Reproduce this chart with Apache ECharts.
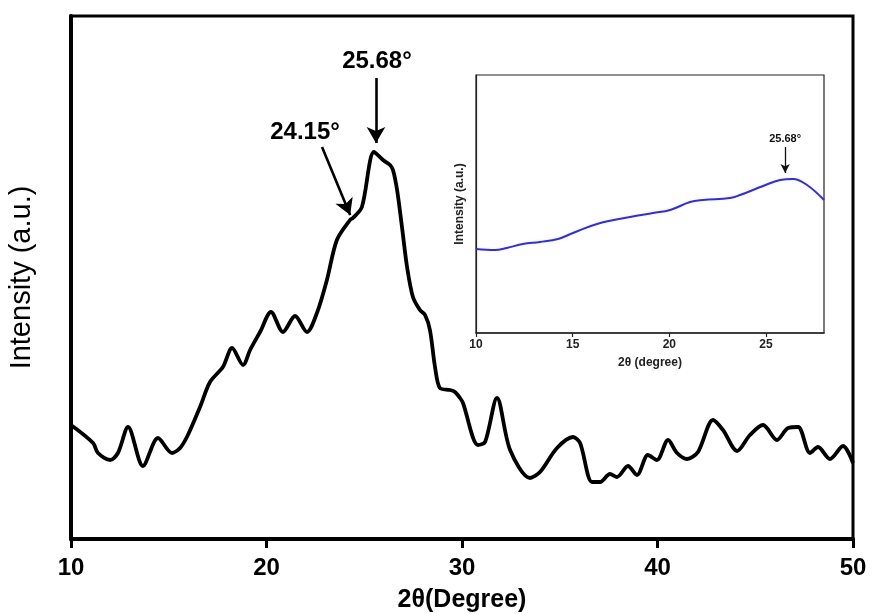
<!DOCTYPE html>
<html>
<head>
<meta charset="utf-8">
<script src="https://cdn.jsdelivr.net/npm/echarts@6/dist/echarts.min.js"></script>
<style>html,body{margin:0;padding:0;background:#fff}#c{width:876px;height:614px}</style>
</head>
<body>
<div id="c"></div>
<script>
// Main XRD pattern (2θ in degrees, intensity in arbitrary units)
const mainX = [10.0, 11.13, 11.38, 12.0, 12.4, 12.92, 13.68, 14.45, 15.17, 15.58, 15.98, 16.6, 17.11, 17.77, 18.24, 18.8, 19.16, 19.67, 20.23, 20.84, 21.46, 22.07, 22.58, 23.09, 23.6, 24.27, 24.42, 24.88, 25.5, 25.96, 26.32, 26.47, 26.68, 26.93, 27.19, 27.49, 27.85, 28.11, 28.36, 28.62, 28.87, 29.39, 29.64, 29.9, 30.05, 30.82, 31.18, 31.79, 32.46, 33.48, 33.99, 34.86, 35.68, 36.04, 36.65, 37.06, 37.57, 37.93, 38.49, 38.95, 39.51, 39.97, 40.54, 41.0, 41.51, 42.07, 42.84, 43.35, 44.07, 44.73, 45.4, 46.11, 46.68, 47.19, 47.8, 48.21, 48.82, 49.49, 50.0];
const mainY = [114, 96, 86, 79, 86, 112, 73, 101, 86, 91, 104, 132, 157, 172, 191, 174, 189, 207, 227, 207, 223, 207, 226, 259, 299, 319, 321, 332, 387, 379, 374, 369, 349, 312, 272, 242, 229, 224, 209, 172, 151, 149, 147, 141, 136, 94, 97, 141, 89, 61, 67, 91, 102, 96, 57, 57, 65, 62, 73, 64, 84, 79, 99, 86, 80, 87, 119, 109, 88, 104, 114, 99, 111, 112, 86, 92, 80, 93, 76];
const mainTicks = [10, 20, 30, 40, 50];

// Inset pattern
const insetX = [10.0, 10.98, 11.59, 12.43, 13.31, 14.24, 15.02, 16.26, 17.97, 19.16, 20.04, 21.07, 21.74, 23.14, 23.66, 24.85, 25.73, 26.4, 27.12, 28.0];
const insetY = [84, 83, 85, 89, 91, 94, 100, 109, 116, 120, 123, 131, 133, 135, 138, 147, 153, 154, 148, 133];
const insetTicks = [10, 15, 20, 25];

// Annotations
const peakMain = {label: '25.68°', text: [25.65, 478], from: [25.6, 461], to: [25.6, 396]};
const shoulderMain = {label: '24.15°', text: [21.97, 407], from: [22.84, 392], to: [24.28, 324]};
const peakInset = {label: '25.68°', text: [25.99, 194], from: [25.99, 186], to: [25.99, 160]};

const FONT = 'Liberation Sans, Arial, sans-serif';
const zip = (a, b) => a.map((v, i) => [v, b[i]]);

const chart = echarts.init(document.getElementById('c'));
chart.setOption({
  animation: false,
  backgroundColor: '#fff',
  grid: [
    {left: 71, right: 23, top: 16, bottom: 75, outerBoundsMode: 'none', containLabel: false, show: true, borderColor: '#000', borderWidth: 3, backgroundColor: 'transparent'},
    {left: 476, right: 52, top: 75, bottom: 281, outerBoundsMode: 'none', containLabel: false, show: true, borderColor: '#222', borderWidth: 1.2, backgroundColor: '#fff', z: 5}
  ],
  xAxis: [
    {
      type: 'value', gridIndex: 0, min: 10, max: 50, interval: 10,
      name: '2θ(Degree)', nameLocation: 'middle', nameGap: 49,
      nameTextStyle: {fontFamily: FONT, fontWeight: 'bold', fontSize: 25, color: '#000'},
      axisLine: {show: true, lineStyle: {color: '#000', width: 4}},
      axisTick: {show: true, length: 9, lineStyle: {color: '#000', width: 3}},
      axisLabel: {margin: 17, fontFamily: FONT, fontWeight: 'bold', fontSize: 24, color: '#000',
        formatter: v => mainTicks.includes(v) ? String(v) : ''},
      splitLine: {show: false}
    },
    {
      type: 'value', gridIndex: 1, min: 10, max: 28, interval: 5,
      name: '2θ (degree)', nameLocation: 'middle', nameGap: 24,
      nameTextStyle: {fontFamily: FONT, fontWeight: 'bold', fontSize: 12, color: '#222'},
      axisLine: {show: true, lineStyle: {color: '#222', width: 1.5}},
      axisTick: {show: true, length: 4, customValues: insetTicks, lineStyle: {color: '#222', width: 1.2}},
      axisLabel: {margin: 6, fontFamily: FONT, fontWeight: 'bold', fontSize: 12, color: '#222', customValues: insetTicks},
      splitLine: {show: false}, z: 6
    }
  ],
  yAxis: [
    {
      type: 'value', gridIndex: 0, min: 0, max: 523,
      name: 'Intensity (a.u.)', nameLocation: 'middle', nameGap: 35,
      nameTextStyle: {fontFamily: FONT, fontSize: 29, color: '#000'},
      axisLine: {show: true, lineStyle: {color: '#000', width: 4}},
      axisTick: {show: false}, axisLabel: {show: false}, splitLine: {show: false}
    },
    {
      type: 'value', gridIndex: 1, min: 0, max: 258,
      name: 'Intensity (a.u.)', nameLocation: 'middle', nameGap: 10,
      nameTextStyle: {fontFamily: FONT, fontWeight: 'bold', fontSize: 12, color: '#222'},
      axisLine: {show: true, lineStyle: {color: '#222', width: 1.2}},
      axisTick: {show: false}, axisLabel: {show: false}, splitLine: {show: false}, z: 6
    }
  ],
  series: [
    {
      type: 'line', xAxisIndex: 0, yAxisIndex: 0, data: zip(mainX, mainY),
      smooth: 0.3, showSymbol: false, lineStyle: {color: '#000', width: 3.8},
      markLine: {
        silent: true, symbol: ['none', 'arrow'], symbolSize: [14, 16],
        lineStyle: {color: '#000', width: 2.6, type: 'solid'}, label: {show: false},
        data: [
          [{coord: peakMain.from}, {coord: peakMain.to}],
          [{coord: shoulderMain.from}, {coord: shoulderMain.to}]
        ]
      },
      markPoint: {
        silent: true, symbol: 'circle', symbolSize: 0,
        label: {show: true, position: 'inside', fontFamily: FONT, fontWeight: 'bold', fontSize: 24, color: '#000', formatter: p => p.name},
        data: [
          {name: peakMain.label, coord: peakMain.text},
          {name: shoulderMain.label, coord: shoulderMain.text}
        ]
      }
    },
    {
      type: 'line', xAxisIndex: 1, yAxisIndex: 1, data: zip(insetX, insetY), z: 7,
      smooth: 0.4, showSymbol: false, lineStyle: {color: '#2b2bf5', width: 2},
      markLine: {
        silent: true, symbol: ['none', 'arrow'], symbolSize: [7, 9],
        lineStyle: {color: '#111', width: 1.3, type: 'solid'}, label: {show: false},
        data: [[{coord: peakInset.from}, {coord: peakInset.to}]]
      },
      markPoint: {
        silent: true, symbol: 'circle', symbolSize: 0,
        label: {show: true, position: 'inside', fontFamily: FONT, fontWeight: 'bold', fontSize: 11, color: '#111', formatter: p => p.name},
        data: [{name: peakInset.label, coord: peakInset.text}]
      }
    }
  ]
});
</script>
</body>
</html>
